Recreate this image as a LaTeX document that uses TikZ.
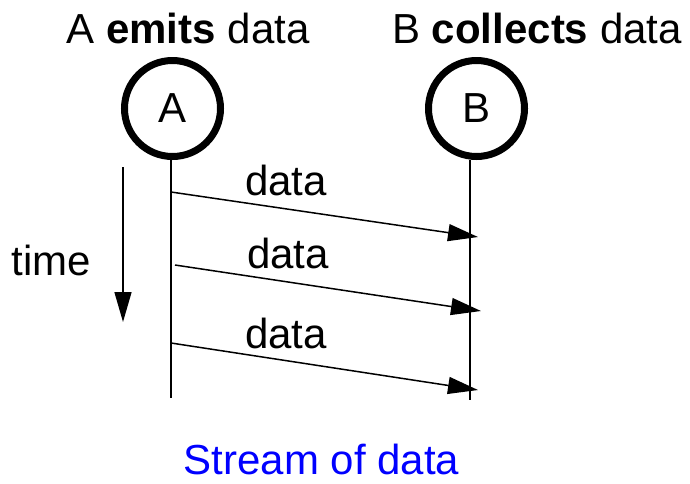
\documentclass[tikz,border=0pt]{standalone}
\usepackage{fontspec}
\setmainfont{Liberation Sans}
\usetikzlibrary{arrows.meta}
\begin{document}
\begin{tikzpicture}[x=1pt,y=-1pt,
  every node/.style={inner sep=0pt,font=\fontsize{42}{48}\selectfont},
  lbl/.style={anchor=base},
  actor/.style={circle,draw,line width=7pt,minimum size=96pt},
  life/.style={line width=1.5pt},
  msg/.style={line width=1.5pt,-{Triangle[length=30pt,width=17pt]}}]
\useasboundingbox (0,0) rectangle (690,483);
% titles
\node[lbl] (tA) at (188,43) {A \textbf{emits} data};
\node[lbl] (tB) at (537,43) {B \textbf{collects} data};
% actors
\node[actor] (A) at (172.5,108.5) {A};
\node[actor] (B) at (476.5,108.5) {B};
% lifelines
\coordinate (lA1) at (171,160);
\coordinate (lA2) at (171,398);
\coordinate (lB1) at (470,160);
\coordinate (lB2) at (470,400);
\draw[life] (lA1) -- (lA2);
\draw[life] (lB1) -- (lB2);
% time arrow
\coordinate (t1) at (123,167);
\coordinate (t2) at (123,322);
\draw[msg] (t1) -- (t2);
\node[lbl] (time) at (51,275) {time};
% messages
\coordinate (s1) at (171,192);
\coordinate (e1) at (478,237);
\coordinate (s2) at (175,265);
\coordinate (e2) at (481,311);
\coordinate (s3) at (171,343);
\coordinate (e3) at (478,390);
\draw[msg] (s1) -- (e1);
\draw[msg] (s2) -- (e2);
\draw[msg] (s3) -- (e3);
\node[lbl] (d1) at (286,195) {data};
\node[lbl] (d2) at (288,268) {data};
\node[lbl] (d3) at (286,348) {data};
% caption
\node[lbl,text=blue] (cap) at (321.5,474) {Stream of data};
\end{tikzpicture}
\end{document}
